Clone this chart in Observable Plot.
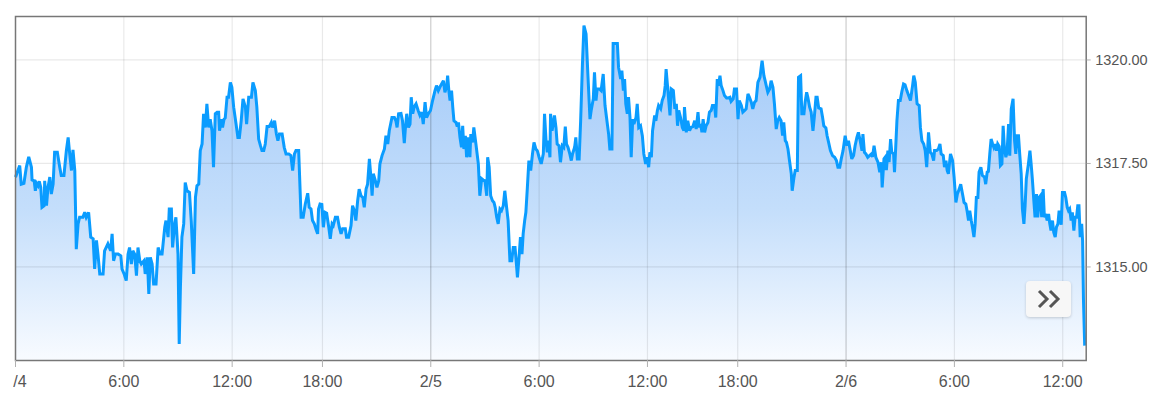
<!DOCTYPE html>
<html>
<head>
<meta charset="utf-8">
<script src="https://cdn.jsdelivr.net/npm/d3@7"></script>
<script src="https://cdn.jsdelivr.net/npm/@observablehq/plot@0.6"></script>
<style>
  html, body { margin: 0; padding: 0; background: #fff; }
  #chart { position: relative; width: 1165px; height: 411px; overflow: hidden; }
  #chart > svg { clip-path: inset(0 0 0 13px); }
  g[aria-label="x-axis tick"] path, g[aria-label="y-axis tick"] path { stroke: #b0b0b0; }
  #more {
    position: absolute; left: 1026px; top: 281px; width: 45px; height: 36px;
    background: #f7f7f7; border-radius: 4px;
    box-shadow: 0 1px 3px rgba(0,0,0,0.18);
  }
  #more svg { position: absolute; left: 11px; top: 8px; }
</style>
</head>
<body>
<div id="chart"></div>
<script>
// Trading minutes since 2/4 00:00 (the daily 17:00–18:00 break is excluded), price (USD)
const feb4 = [
[0,1317.17],[14,1317.45],[19,1317.00],[28,1317.02],[36,1317.41],[44,1317.66],[53,1317.41],[55,1317.10],[62,1317.08],[66,1316.84],
[70,1317.02],[75,1316.96],[79,1317.07],[84,1316.92],[88,1316.44],[95,1316.48],[97,1317.08],[103,1316.48],[108,1316.92],[114,1317.17],
[119,1316.76],[125,1317.00],[130,1317.77],[139,1317.77],[147,1317.41],[152,1317.21],[161,1317.21],[169,1317.81],[175,1318.13],[179,1317.81],
[186,1317.33],[191,1317.83],[197,1317.33],[202,1315.43],[208,1316.04],[213,1316.20],[224,1316.20],[230,1316.32],[235,1316.20],[243,1316.32],
[250,1315.72],[258,1315.68],[263,1314.95],[269,1315.64],[274,1315.31],[280,1314.83],[291,1314.83],[296,1315.39],[307,1315.56],[316,1315.39],
[321,1315.80],[326,1315.15],[332,1315.31],[341,1315.31],[350,1315.27],[354,1314.95],[361,1314.83],[368,1314.67],[374,1315.31],[379,1315.47],
[385,1315.07],[390,1315.39],[396,1315.31],[402,1314.79],[407,1315.47],[413,1315.15],[418,1315.07],[427,1315.15],[431,1314.83],[438,1315.23],
[443,1314.35],[448,1315.23],[454,1315.07],[459,1314.59],[467,1314.59],[474,1315.47],[481,1315.31],[487,1315.31],[496,1315.96],[500,1316.12],
[507,1315.72],[511,1316.40],[518,1316.40],[522,1315.47],[529,1316.04],[533,1316.20],[540,1315.31],[544,1313.14],[548,1314.51],[553,1315.72],
[559,1316.04],[564,1317.04],[570,1316.84],[578,1316.80],[584,1316.12],[592,1314.83],[598,1316.68],[603,1316.96],[609,1317.00],[614,1317.81],
[620,1317.97],[625,1318.70],[631,1318.37],[636,1318.94],[642,1318.37],[647,1318.57],[653,1318.29],[658,1317.41],[664,1318.70],[670,1318.74],
[675,1318.74],[678,1318.29],[684,1318.57],[688,1318.37],[693,1318.57],[697,1318.60],[703,1319.10],[708,1319.10],[714,1319.46],[719,1319.34],
[725,1318.86],[733,1318.45],[739,1318.13],[744,1318.13],[750,1318.53],[756,1319.06],[764,1318.86],[768,1318.45],[775,1319.10],[784,1319.10],
[789,1319.46],[797,1319.26],[802,1318.86],[808,1318.09],[814,1317.93],[819,1317.81],[825,1317.81],[830,1317.97],[836,1318.39],[843,1318.39],
[850,1318.49],[854,1318.37],[861,1318.53],[867,1318.21],[872,1318.05],[877,1318.21],[886,1318.21],[893,1317.89],[899,1317.73],[908,1317.73],
[915,1317.69],[921,1317.33],[927,1317.73],[932,1317.81],[941,1317.81],[949,1316.20],[956,1316.20],[963,1316.52],[971,1316.78],[976,1316.44],
[982,1316.40],[987,1316.12],[993,1316.04],[998,1315.92],[1004,1315.80],[1007,1316.40],[1012,1316.52],[1018,1316.51],[1023,1315.96],[1029,1316.32],
[1034,1316.30],[1041,1315.96],[1046,1315.68],[1052,1316.04],[1056,1316.00],[1063,1316.20],[1070,1316.20],[1076,1315.96],[1082,1315.80],[1087,1315.92],
[1096,1315.92],[1100,1315.72],[1107,1315.72],[1115,1316.00],[1120,1316.48],[1126,1316.36],[1131,1316.12],[1137,1316.60],[1142,1316.88],[1148,1316.72],
[1154,1316.68],[1159,1316.44],[1165,1316.88],[1170,1317.00],[1176,1317.61],[1181,1317.17],[1185,1316.72],[1189,1317.25],[1196,1317.08],[1201,1316.92],
[1207,1317.08],[1211,1317.49],[1218,1317.69],[1226,1317.85],[1231,1318.17],[1237,1317.97],[1242,1318.29],[1251,1318.61],[1259,1318.61],[1264,1318.53],
[1268,1318.37],[1273,1318.70],[1281,1318.71],[1286,1318.53],[1292,1317.99],[1295,1318.29],[1300,1318.70],[1306,1318.37],[1311,1318.45],[1315,1319.10],
[1320,1318.70],[1325,1318.87],[1331,1318.94],[1338,1318.78],[1344,1318.66],[1350,1318.74],[1355,1318.45],[1361,1318.98],[1366,1318.61],[1372,1318.70],
[1379,1318.78]
];
const feb5 = [
[1386,1319.02],[1394,1319.26],[1399,1319.38],[1405,1319.26],[1410,1319.34],[1416,1319.42],[1422,1319.50],[1427,1319.22],[1433,1319.38],[1436,1319.62],
[1440,1319.26],[1444,1319.02],[1449,1319.26],[1453,1318.86],[1457,1318.53],[1464,1318.49],[1468,1318.39],[1472,1318.49],[1477,1318.13],[1482,1317.89],
[1486,1318.41],[1490,1317.85],[1495,1318.17],[1499,1317.65],[1505,1318.13],[1510,1317.65],[1513,1318.21],[1519,1318.01],[1523,1318.37],[1530,1317.97],
[1538,1317.49],[1543,1316.72],[1549,1317.13],[1554,1317.10],[1560,1317.08],[1566,1316.72],[1569,1317.65],[1574,1317.41],[1579,1316.72],[1585,1316.60],
[1590,1316.56],[1594,1316.44],[1599,1316.20],[1604,1316.04],[1610,1316.40],[1615,1316.36],[1621,1316.48],[1626,1316.84],[1632,1316.44],[1637,1316.12],
[1643,1315.15],[1649,1315.15],[1654,1315.47],[1660,1315.47],[1665,1315.03],[1668,1314.75],[1674,1315.31],[1678,1315.72],[1683,1315.31],[1687,1315.80],
[1692,1316.12],[1696,1316.32],[1701,1316.92],[1706,1317.57],[1712,1317.33],[1718,1317.73],[1723,1318.01],[1729,1317.85],[1734,1317.81],[1740,1317.65],
[1747,1317.49],[1754,1317.73],[1758,1318.70],[1763,1318.05],[1767,1317.77],[1771,1318.05],[1776,1317.65],[1778,1318.70],[1783,1318.29],[1787,1318.45],
[1791,1318.66],[1796,1318.37],[1800,1317.97],[1806,1317.93],[1811,1317.53],[1817,1317.93],[1822,1317.89],[1827,1318.39],[1831,1317.97],[1836,1317.89],
[1842,1317.73],[1847,1317.57],[1851,1317.73],[1858,1317.89],[1862,1318.13],[1867,1317.61],[1873,1317.61],[1878,1318.53],[1884,1319.90],[1889,1320.83],
[1896,1320.63],[1902,1319.66],[1909,1318.57],[1913,1318.78],[1920,1319.06],[1924,1319.70],[1929,1319.02],[1933,1319.30],[1940,1319.30],[1946,1319.26],
[1953,1319.66],[1959,1318.90],[1964,1318.61],[1971,1318.21],[1975,1317.85],[1982,1317.85],[1986,1320.40],[2000,1320.40],[2004,1319.82],[2011,1319.54],
[2015,1319.74],[2020,1319.26],[2024,1319.54],[2028,1318.94],[2033,1318.70],[2037,1319.10],[2042,1318.61],[2046,1317.65],[2051,1318.57],[2055,1318.45],
[2062,1318.61],[2066,1318.94],[2071,1318.37],[2077,1318.41],[2083,1318.17],[2088,1317.73],[2094,1317.49],[2099,1317.65],[2104,1317.41],[2108,1317.77],
[2113,1317.65],[2117,1318.29],[2124,1318.66],[2128,1318.53],[2133,1318.78],[2137,1318.90],[2144,1318.82],[2149,1319.02],[2155,1319.14],[2159,1319.38],
[2162,1319.78],[2168,1319.26],[2175,1318.66],[2179,1319.30],[2186,1319.26],[2191,1318.82],[2196,1318.94],[2200,1318.41],[2204,1318.78],[2210,1318.61],
[2216,1318.37],[2221,1318.29],[2223,1318.86],[2229,1318.25],[2234,1318.53],[2240,1318.29],[2245,1318.37],[2251,1318.39],[2257,1318.53],[2262,1318.33],
[2268,1318.74],[2272,1318.37],[2277,1318.45],[2281,1318.25],[2285,1318.57],[2290,1318.25],[2295,1318.41],[2301,1318.49],[2306,1318.74],[2312,1318.78],
[2316,1318.90],[2323,1318.90],[2327,1318.61],[2332,1319.54],[2336,1319.38],[2341,1319.62],[2345,1319.38],[2351,1319.26],[2356,1319.14],[2363,1319.08],
[2367,1319.08],[2374,1319.10],[2378,1319.00],[2385,1319.06],[2389,1319.30],[2396,1319.30],[2401,1318.57],[2405,1319.02],[2412,1318.90],[2417,1318.74],
[2423,1318.78],[2428,1318.82],[2434,1319.18],[2439,1319.10],[2445,1318.98],[2450,1318.82],[2456,1318.98],[2461,1319.02],[2467,1319.46],[2474,1319.58],
[2478,1319.82],[2481,1319.98],[2487,1319.62],[2491,1319.50],[2496,1319.34],[2500,1319.22],[2506,1319.30],[2511,1319.50],[2517,1319.34],[2522,1318.94],
[2528,1318.33],[2533,1318.53],[2538,1318.61],[2544,1318.53],[2549,1318.17],[2553,1318.49],[2558,1318.05],[2562,1318.01],[2567,1317.85],[2572,1317.57],
[2578,1317.25],[2581,1316.84],[2587,1317.17],[2591,1317.33],[2598,1317.33],[2602,1319.58],[2609,1319.62],[2613,1318.70],[2620,1318.70],[2624,1318.98],
[2629,1319.22],[2633,1319.10],[2639,1318.86],[2644,1318.74],[2650,1318.29],[2655,1318.66],[2660,1319.10],[2664,1319.10],[2669,1318.84],[2677,1318.82],
[2682,1318.61],[2686,1318.41],[2693,1318.36],[2697,1318.17],[2702,1318.01],[2708,1317.81],[2715,1317.69],[2722,1317.65],[2728,1317.57],[2733,1317.41],
[2739,1317.41],[2744,1317.61],[2750,1317.81],[2757,1318.17]
];
const feb6 = [
[2763,1317.93],[2768,1318.05],[2774,1317.81],[2779,1317.61],[2785,1317.69],[2790,1317.93],[2796,1318.13],[2801,1318.25],[2807,1318.05],[2813,1317.81],
[2816,1318.21],[2821,1317.77],[2826,1317.73],[2832,1317.65],[2838,1317.69],[2844,1317.73],[2848,1317.66],[2853,1317.93],[2859,1317.65],[2866,1317.53],
[2872,1317.29],[2877,1317.53],[2880,1316.92],[2886,1317.61],[2890,1317.65],[2894,1317.34],[2899,1317.81],[2903,1317.53],[2908,1318.09],[2912,1317.77],
[2918,1317.73],[2921,1317.29],[2925,1317.89],[2929,1318.53],[2934,1319.02],[2940,1319.02],[2945,1319.22],[2951,1319.42],[2956,1319.40],[2962,1319.26],
[2968,1319.14],[2974,1319.02],[2981,1319.38],[2985,1319.62],[2990,1319.46],[2996,1318.94],[3003,1318.90],[3007,1318.37],[3012,1318.05],[3018,1317.97],
[3023,1317.81],[3028,1317.41],[3034,1318.25],[3040,1317.77],[3045,1317.73],[3051,1317.57],[3054,1317.81],[3061,1317.81],[3067,1317.85],[3072,1317.97],
[3076,1317.73],[3083,1317.69],[3087,1317.41],[3092,1317.57],[3096,1317.33],[3100,1317.25],[3107,1317.73],[3114,1317.57],[3119,1317.17],[3125,1316.56],
[3130,1316.76],[3136,1316.88],[3141,1317.00],[3147,1316.76],[3152,1316.56],[3158,1316.52],[3162,1316.36],[3167,1316.12],[3171,1316.36],[3176,1316.12],
[3180,1315.96],[3185,1315.72],[3189,1316.04],[3193,1316.68],[3198,1316.68],[3202,1317.29],[3208,1317.41],[3213,1317.21],[3220,1317.17],[3224,1317.00],
[3229,1317.29],[3233,1317.31],[3238,1317.77],[3242,1318.09],[3247,1317.97],[3251,1317.89],[3255,1317.97],[3260,1317.81],[3264,1317.97],[3269,1317.91],
[3273,1317.45],[3278,1317.49],[3282,1318.41],[3286,1317.89],[3291,1317.65],[3295,1317.77],[3300,1318.45],[3304,1317.69],[3309,1318.82],[3315,1319.06],
[3320,1318.05],[3324,1317.73],[3328,1318.17],[3333,1318.17],[3337,1317.73],[3342,1317.25],[3346,1316.40],[3351,1316.04],[3355,1316.48],[3359,1317.13],
[3366,1317.49],[3371,1317.81],[3375,1317.49],[3379,1317.13],[3384,1316.60],[3388,1316.20],[3393,1316.76],[3397,1316.20],[3402,1316.68],[3406,1316.72],
[3410,1316.20],[3415,1316.88],[3419,1316.20],[3424,1316.28],[3428,1316.12],[3433,1316.28],[3437,1316.04],[3441,1315.88],[3446,1316.12],[3450,1315.84],
[3455,1315.72],[3459,1315.96],[3464,1316.04],[3468,1316.36],[3475,1316.02],[3479,1316.80],[3486,1316.80],[3490,1316.68],[3495,1316.44],[3499,1316.36],
[3503,1316.40],[3508,1316.12],[3512,1316.32],[3517,1315.88],[3521,1316.20],[3526,1316.20],[3530,1316.48],[3534,1316.48],[3538,1315.72],[3543,1316.04],
[3546,1315.64],[3549,1314.19],[3553,1313.10]
];

// Axis ticks
const tickDays   = [4, 4, 4, 4, 5, 5, 5, 5, 6, 6, 6];
const tickHours  = [0, 6, 12, 18, 0, 6, 12, 18, 0, 6, 12];
const tickLabels = ["2/4", "6:00", "12:00", "18:00", "2/5", "6:00", "12:00", "18:00", "2/6", "6:00", "12:00"];
const priceTicks = [1315, 1317.5, 1320];

const xDomain = [0, 3558];          // trading minutes shown
const yDomain = [1312.74, 1321.05]; // price range shown

// Map a clock time to trading minutes (each trading day is 23 h; 17:00–18:00 is the break)
const tradingMinute = (day, hour) => (day - 4) * 1380 + hour * 60 - (hour >= 18 ? 60 : 0);

const data = [...feb4, ...feb5, ...feb6].map(([t, p]) => ({t, p}));
const ticks = tickDays.map((d, i) => tradingMinute(d, tickHours[i]));
const labelOf = new Map(ticks.map((t, i) => [t, tickLabels[i]]));
const dayTicks = ticks.filter((t, i) => tickHours[i] === 0 && tickDays[i] !== 4);
const hourTicks = ticks.filter((t, i) => tickHours[i] !== 0);

const chart = Plot.plot({
  width: 1165,
  height: 411,
  marginLeft: 15,
  marginRight: 79.3,
  marginTop: 16,
  marginBottom: 51,
  style: {fontFamily: "'Liberation Sans', Arial, sans-serif", background: "#fff", overflow: "visible"},
  x: {domain: xDomain},
  y: {domain: yDomain},
  marks: [
    Plot.areaY(data, {x: "t", y1: yDomain[0], y2: "p", fill: "url(#priceGradient)", curve: "linear"}),
    Plot.ruleY(priceTicks, {stroke: "#000", strokeOpacity: 0.085, strokeWidth: 1.2}),
    Plot.ruleX(hourTicks, {stroke: "#000", strokeOpacity: 0.085, strokeWidth: 1.2}),
    Plot.ruleX(dayTicks, {stroke: "#000", strokeOpacity: 0.2, strokeWidth: 1.2}),
    Plot.lineY(data, {x: "t", y: "p", stroke: "#0a9cff", strokeWidth: 3, strokeLinejoin: "miter", strokeLinecap: "butt", strokeMiterlimit: 3}),
    Plot.frame({stroke: "#777", strokeWidth: 1.5}),
    Plot.axisX(ticks, {tickFormat: d => labelOf.get(d), tickSize: 7, tickPadding: 8, fontSize: 16, color: "#555", label: null}),
    Plot.axisY(priceTicks, {anchor: "right", tickFormat: d => d.toFixed(2), tickSize: 4, tickPadding: 5, fontSize: 14.5, color: "#555", label: null})
  ]
});

// gradient used by the area fill
const ns = "http://www.w3.org/2000/svg";
const defs = document.createElementNS(ns, "defs");
defs.innerHTML = `<linearGradient id="priceGradient" x1="0" y1="0" x2="0" y2="1">
  <stop offset="0" stop-color="#a0c8f8"/>
  <stop offset="0.55" stop-color="#c4defb"/>
  <stop offset="1" stop-color="#f8fbff"/>
</linearGradient>`;
chart.insertBefore(defs, chart.firstChild);

const root = document.getElementById("chart");
root.appendChild(chart);

const more = document.createElement("div");
more.id = "more";
more.innerHTML = `<svg width="24" height="20" viewBox="0 0 24 20"><polyline points="2,2 10,10 2,18" fill="none" stroke="#555" stroke-width="3"/><polyline points="13,2 21,10 13,18" fill="none" stroke="#555" stroke-width="3"/></svg>`;
root.appendChild(more);
</script>
</body>
</html>
